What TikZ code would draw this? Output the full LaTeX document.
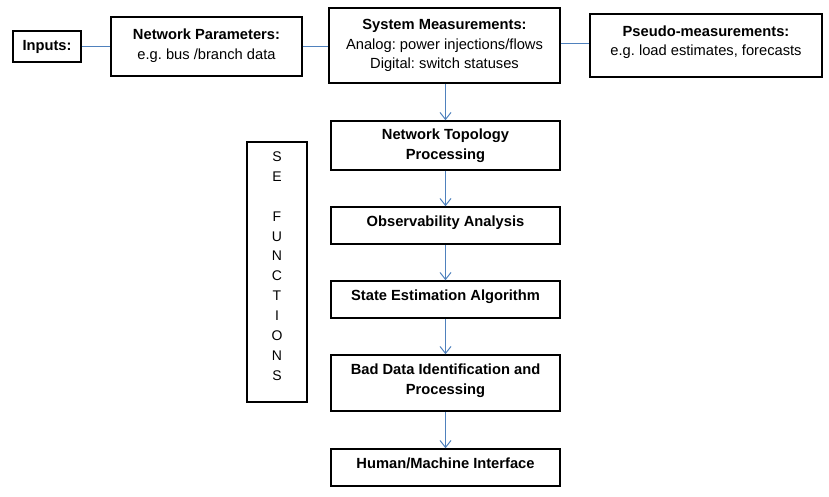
\documentclass[tikz,border=0pt]{standalone}
\usepackage{fontspec}
\setmainfont{Liberation Sans}
\frenchspacing
\usetikzlibrary{arrows.meta}
\definecolor{linkblue}{RGB}{79,129,189}
\tikzset{
  box/.style={draw, line width=1.5pt, inner sep=0pt, align=center,
    minimum width=229pt, font=\fontsize{14.7}{19.5}\selectfont},
  link/.style={draw=linkblue, line width=1pt},
  flow/.style={link, -{Straight Barb[length=7pt,width=11pt]}}
}
\begin{document}
\begin{tikzpicture}[x=1pt,y=-1pt]
    \useasboundingbox (0,0) rectangle (829,497);

    % inputs row
    \node[box, minimum width=68pt, minimum height=31pt] (inputs) at (47,46.5) {\textbf{Inputs:}};
    \node[box, minimum width=191pt, minimum height=59pt] (netpar) at (206.5,46.5)
        {\textbf{Network Parameters:}\\e.g. bus /branch data\\[-14.9pt]};
    \node[box, minimum width=231pt, minimum height=75pt] (sysmeas) at (444.5,45.5)
        {\textbf{System Measurements:}\\Analog: power injections/flows\\Digital: switch statuses};
    \node[box, minimum width=232pt, minimum height=63pt] (pseudo) at (706,45.5)
        {\textbf{Pseudo-measurements:}\\e.g. load estimates, forecasts\\[-9.5pt]};

    % SE functions
    \node[box, minimum height=49pt] (topo) at (445.5,145.5) {\textbf{Network Topology}\\\textbf{Processing}};
    \node[box, minimum height=37pt] (observ) at (445.5,225.5) {\textbf{Observability Analysis}\\[-11.5pt]};
    \node[box, minimum height=37pt] (estim) at (445.5,299.5) {\textbf{State Estimation Algorithm}\\[-11.5pt]};
    \node[box, minimum height=56pt] (baddata) at (445.5,383) {\textbf{Bad Data Identification and}\\\textbf{Processing}\\[-11.5pt]};
    \node[box, minimum height=37pt] (hmi) at (445.5,467.5) {\textbf{Human/Machine Interface}\\[-11.5pt]};

    \node[box, minimum width=60pt, minimum height=260pt, font=\fontsize{14}{19.9}\selectfont] (sefunc) at (277,272)
        {S\\E\\[19.9pt]F\\U\\N\\C\\T\\I\\O\\N\\S\\[-7.9pt]};

    \draw[link] (inputs) -- (netpar);
    \draw[link] (netpar.east) -- (sysmeas.west |- netpar.east);
    \draw[link] ([yshift=1.5pt]sysmeas.east |- pseudo.west) -- ([yshift=1.5pt]pseudo.west);

    \draw[flow] (sysmeas.south -| topo.north) -- (topo.north);
    \draw[flow] (topo) -- (observ);
    \draw[flow] (observ) -- (estim);
    \draw[flow] (estim) -- (baddata);
    \draw[flow] (baddata) -- (hmi);
\end{tikzpicture}
\end{document}
